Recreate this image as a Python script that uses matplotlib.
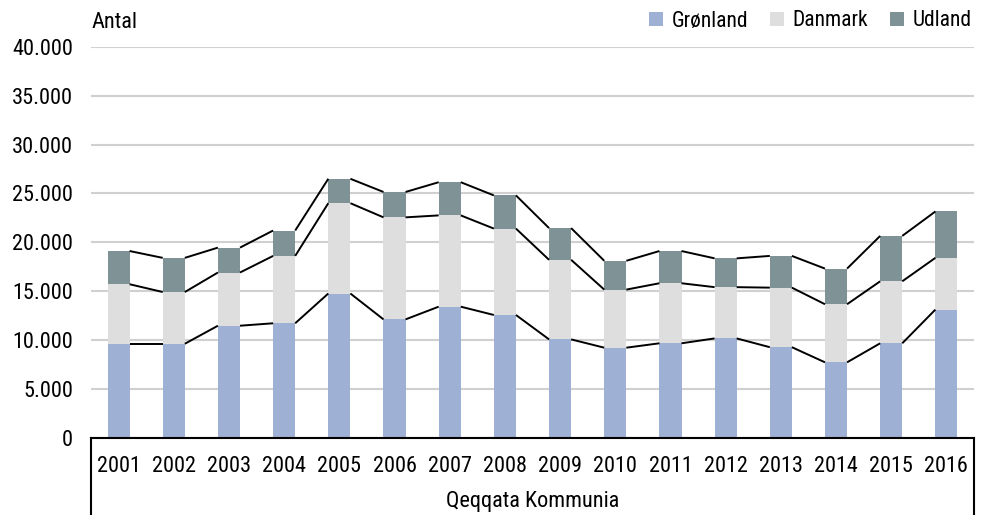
import matplotlib
matplotlib.use("Agg")
import matplotlib.pyplot as plt
import numpy as np
from matplotlib.ticker import FuncFormatter
from matplotlib.patches import Patch
from matplotlib import font_manager as fm

# pick a condensed family if one is installed
cands = sorted({f.name for f in fm.fontManager.ttflist
                if ("Condensed" in f.name or "Narrow" in f.name)})
cond = [f for f in fm.fontManager.ttflist
        if f.stretch in ("condensed", "semi-condensed", "extra-condensed")]
fam = None
for pref in ["Liberation Sans Narrow", "Roboto Condensed", "Open Sans Condensed",
             "DejaVu Sans Condensed"]:
    if pref in cands:
        fam = pref
        break
if fam is None and cands:
    fam = cands[0]

years = ["2001", "2002", "2003", "2004", "2005", "2006", "2007", "2008",
         "2009", "2010", "2011", "2012", "2013", "2014", "2015", "2016"]
gronland = [9600, 9600, 11450, 11700, 14750, 12100, 13400, 12550,
            10050, 9200, 9650, 10150, 9250, 7700, 9650, 13100]
danmark_top = [15700, 14900, 16900, 18600, 24000, 22550, 22750, 21400,
               18200, 15150, 15800, 15400, 15350, 13650, 16000, 18400]
udland_top = [19100, 18400, 19450, 21200, 26500, 25150, 26150, 24800,
              21450, 18100, 19100, 18350, 18600, 17300, 20650, 23150]
series_names = ["Grønland", "Danmark", "Udland"]
group_label = "Qeqqata Kommunia"
y_label = "Antal"

if fam is not None:
    plt.rcParams['font.family'] = [fam, 'DejaVu Sans']
    fs = 16
elif cond:
    plt.rcParams['font.family'] = ['DejaVu Sans']
    plt.rcParams['font.stretch'] = 'condensed'
    fs = 15
else:
    plt.rcParams['font.family'] = ['DejaVu Sans']
    fs = 13

g = np.array(gronland, dtype=float)
d = np.array(danmark_top, dtype=float) - g
u = np.array(udland_top, dtype=float) - np.array(danmark_top, dtype=float)

colors = ["#9EB0D4", "#DEDEDE", "#7F9396"]

fig = plt.figure(figsize=(9.88, 5.15), dpi=100)
ax = fig.add_axes([91/988, (515-437.5)/515, (974-91)/988, (437.5-47)/515])

x = np.arange(len(years))
w = 0.4
ax.bar(x, g, w, color=colors[0], zorder=3)
ax.bar(x, d, w, bottom=g, color=colors[1], zorder=3)
ax.bar(x, u, w, bottom=g + d, color=colors[2], zorder=3)

for tops in (g, g + d, g + d + u):
    for i in range(len(x) - 1):
        ax.plot([x[i] + w/2, x[i+1] - w/2], [tops[i], tops[i+1]],
                color="black", lw=1.4, zorder=4, solid_capstyle='butt')

ax.set_xlim(-0.5, len(years) - 0.5)
ax.set_ylim(0, 40000)
ax.set_yticks(np.arange(0, 40001, 5000))
ax.yaxis.set_major_formatter(FuncFormatter(lambda v, p: f"{int(v):,}".replace(",", ".")))
ax.grid(axis="y", color="#D0D0D0", lw=1.5, zorder=0)
ax.set_axisbelow(True)

for s in ["top", "right", "left"]:
    ax.spines[s].set_visible(False)
ax.spines["bottom"].set_color("black")
ax.spines["bottom"].set_linewidth(1.5)
ax.spines["bottom"].set_zorder(5)

ax.set_xticks(x)
ax.set_xticklabels(years, fontsize=fs)
ax.tick_params(axis="x", length=0, pad=13)
ax.tick_params(axis="y", length=0, pad=13, labelsize=fs)

for xa in (0, 1):
    ax.plot([xa, xa], [0, -0.25], transform=ax.transAxes, color="black",
            lw=1.5, clip_on=False)
ax.text(0.5, -0.165, group_label, transform=ax.transAxes, ha="center",
        va="center", fontsize=fs)

fig.text(91/988, 1 - 22/515, y_label, ha="left", va="center", fontsize=fs)

handles = [Patch(facecolor=c, edgecolor="none") for c in colors]
leg = fig.legend(handles, series_names, loc="center right",
                 bbox_to_anchor=(980/988, 1 - 21/515), ncol=3, frameon=False,
                 fontsize=fs - 0.5, handlelength=0.65, handleheight=0.65,
                 handletextpad=0.4, columnspacing=1.0, borderaxespad=0)

fig.savefig("out.png", dpi=100)
